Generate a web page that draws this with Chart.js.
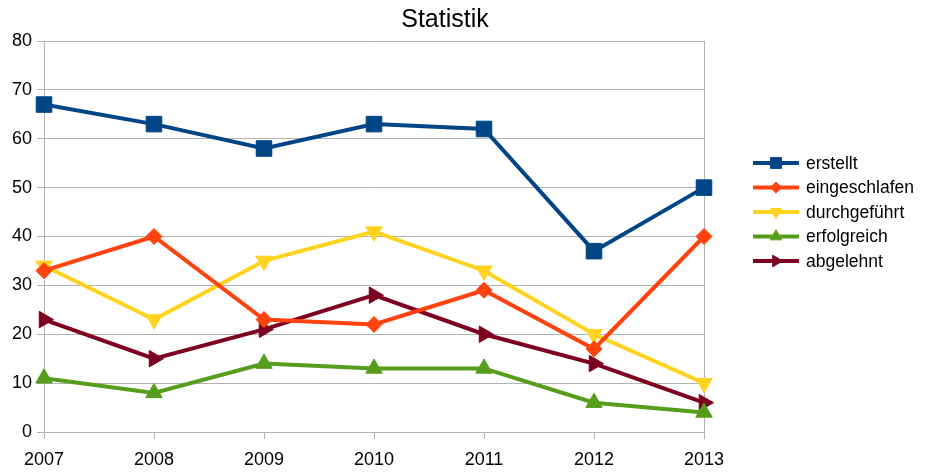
<!DOCTYPE html>
<html>
<head>
<meta charset="utf-8">
<script src="https://cdn.jsdelivr.net/npm/chart.js@4/dist/chart.umd.min.js"></script>
<style>
html,body{margin:0;padding:0;background:#fff;}
#wrap{width:931px;height:473px;}
</style>
</head>
<body>
<div id="wrap"><canvas id="c" width="931" height="473"></canvas></div>
<script>
const categories = ['2007','2008','2009','2010','2011','2012','2013'];
const erstellt      = [67, 63, 58, 63, 62, 37, 50];
const eingeschlafen = [33, 40, 23, 22, 29, 17, 40];
const durchgefuehrt = [34, 23, 35, 41, 33, 20, 10];
const erfolgreich   = [11, 8, 14, 13, 13, 6, 4];
const abgelehnt     = [23, 15, 21, 28, 20, 14, 6];
const yTicks = [0,10,20,30,40,50,60,70,80];
const titleText = 'Statistik';

const FONT = '"Liberation Sans", Arial, sans-serif';
const GRID = '#b3b3b3';

function ds(label, data, color, style, rot, radius) {
  return {
    label, data,
    borderColor: color, backgroundColor: color,
    borderWidth: 4, pointStyle: style, rotation: rot,
    pointRadius: radius, pointHoverRadius: radius,
    pointBorderWidth: 1, pointBorderColor: color,
    tension: 0, clip: false, fill: false
  };
}

const datasets = [
  ds('erstellt', erstellt, '#004586', 'rect', 0, 11),
  ds('eingeschlafen', eingeschlafen, '#ff420e', 'rectRot', 0, 8),
  ds('durchgeführt', durchgefuehrt, '#ffd320', 'triangle', 180, 9.5),
  ds('erfolgreich', erfolgreich, '#579d1c', 'triangle', 0, 9.5),
  ds('abgelehnt', abgelehnt, '#7e0021', 'triangle', 90, 9.5)
];

const customDraw = {
  id: 'customDraw',
  afterDraw(chart) {
    const ctx = chart.ctx;
    ctx.save();
    ctx.fillStyle = '#000';
    ctx.font = '25px ' + FONT;
    ctx.textAlign = 'center';
    ctx.textBaseline = 'middle';
    ctx.fillText(titleText, 445, 20);
    const y0 = 163, step = 24.5;
    chart.data.datasets.forEach((d, i) => {
      const y = y0 + i * step;
      ctx.strokeStyle = d.borderColor;
      ctx.lineWidth = 4;
      ctx.beginPath();
      ctx.moveTo(753, y);
      ctx.lineTo(799, y);
      ctx.stroke();
      ctx.fillStyle = d.backgroundColor;
      ctx.strokeStyle = d.borderColor;
      ctx.lineWidth = 1;
      Chart.helpers.drawPoint(ctx, {pointStyle: d.pointStyle, rotation: d.rotation, radius: d.pointRadius * 0.7, borderWidth: 1}, 776, y);
      ctx.fillStyle = '#000';
      ctx.font = '17.5px ' + FONT;
      ctx.textAlign = 'left';
      ctx.textBaseline = 'middle';
      ctx.fillText(d.label, 806, y + 1);
    });
    ctx.restore();
  }
};

new Chart(document.getElementById('c'), {
  type: 'line',
  data: { labels: categories, datasets },
  options: {
    responsive: false,
    animation: false,
    layout: { padding: { top: 41, right: 227, left: 0, bottom: 0 } },
    plugins: { legend: { display: false }, title: { display: false }, tooltip: { enabled: false } },
    scales: {
      x: {
        type: 'category',
        offset: false,
        afterFit(s) { s.height = 41; },
        grid: {
          display: true,
          color: (c) => c.index === categories.length - 1 ? GRID : 'rgba(0,0,0,0)',
          tickColor: GRID, tickLength: 7, lineWidth: 1
        },
        border: { display: true, color: GRID, width: 1 },
        ticks: { color: '#000', font: { family: FONT, size: 18 }, padding: 10, maxRotation: 0, autoSkip: false }
      },
      y: {
        min: 0, max: 80,
        afterFit(s) { s.width = 44; },
        afterBuildTicks(s) { s.ticks = yTicks.map(v => ({ value: v })); },
        grid: { color: GRID, tickColor: GRID, tickLength: 7, lineWidth: 1 },
        border: { display: true, color: GRID, width: 1 },
        ticks: { color: '#000', font: { family: FONT, size: 18 }, padding: 5 }
      }
    }
  },
  plugins: [customDraw]
});
</script>
</body>
</html>
